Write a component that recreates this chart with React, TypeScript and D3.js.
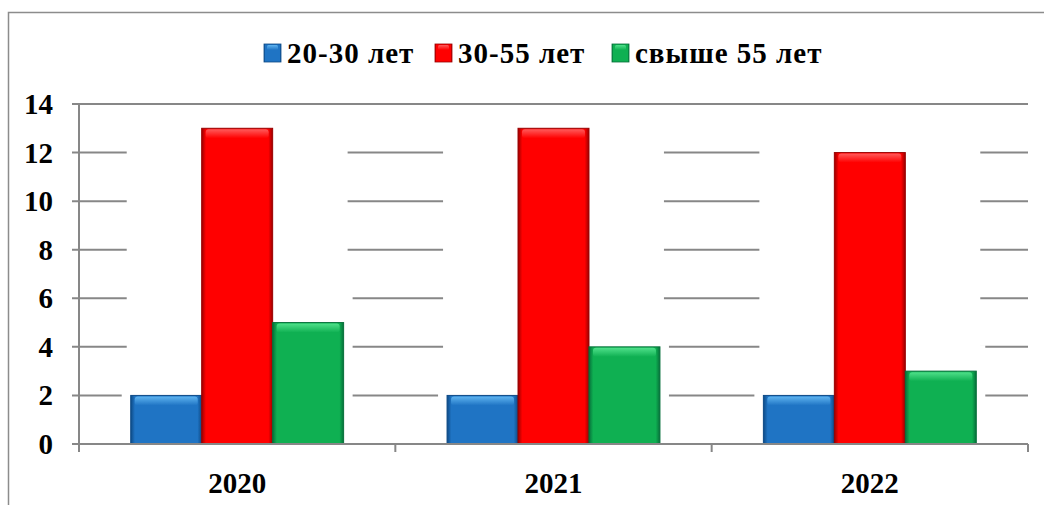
import * as d3 from "d3";

const years = ["2020", "2021", "2022"];
const seriesNames = ["20-30 лет", "30-55 лет", "свыше 55 лет"];
const youngValues = [2, 2, 2];
const middleValues = [13, 13, 12];
const olderValues = [5, 4, 3];
const yTicks = [0, 2, 4, 6, 8, 10, 12, 14];

const palette = [
  { main: "#1f74c4", light: "#5fb4f0", dark: "#0d4a86" },
  { main: "#ff0000", light: "#ff5a5a", dark: "#9a0000" },
  { main: "#0fb052", light: "#4fe08a", dark: "#06703a" },
];

const FONT = "Liberation Serif";
const AXIS = "#878787";

export default function App() {
  const width = 1044;
  const height = 505;
  const left = 79;
  const right = 1028;

  const values = [youngValues, middleValues, olderValues];
  const rows = years.map((year, i) => ({
    year,
    bars: seriesNames.map((name, s) => ({ name, s, value: values[s][i] })),
  }));

  const x0 = d3.scaleBand().domain(years).range([left, right]).paddingInner(0.327).paddingOuter(0.1635);
  const x1 = d3.scaleBand().domain(seriesNames).range([0, x0.bandwidth()]).padding(0);
  const y = d3.scaleLinear().domain([0, 14]).range([444, 104]);
  const glowTop = y(14) + 2;
  const step = x0.step();
  const legendX = [264, 435, 612];

  return (
    <svg width={width} height={height} style={{ position: "absolute", left: 0, top: 0, background: "#fff" }}>
      <defs>
        {palette.map((c, i) => (
          <g key={i}>
            <linearGradient id={`side${i}`} x1="0" x2="1" y1="0" y2="0">
              <stop offset="0%" stopColor={c.dark} />
              <stop offset="6%" stopColor={c.main} />
              <stop offset="94%" stopColor={c.main} />
              <stop offset="100%" stopColor={c.dark} />
            </linearGradient>
            <linearGradient id={`top${i}`} x1="0" x2="0" y1="0" y2="1">
              <stop offset="0%" stopColor={c.light} />
              <stop offset="100%" stopColor={c.main} />
            </linearGradient>
          </g>
        ))}
      </defs>

      {/* frame */}
      <path d={`M8.5,${height} V12.5 H${width}`} fill="none" stroke="#8c8c8c" strokeWidth={1.5} />

      {/* gridlines + y ticks */}
      {yTicks.map((t) => (
        <line key={t} x1={left - 7} x2={right} y1={y(t)} y2={y(t)} stroke={AXIS} strokeWidth={2} />
      ))}

      {/* white glow around bars hides gridlines */}
      <g fill="#fff">
        {rows.map((r) => {
          const gx = x0(r.year)!;
          const maxV = d3.max(r.bars, (b) => b.value)!;
          const top = Math.max(glowTop, y(maxV) - 22);
          return (
            <g key={r.year}>
              <rect x={gx - 4} y={top} width={x0.bandwidth() + 8} height={y(0) - top} />
              {r.bars.map((b) => {
                const bt = Math.max(glowTop, y(b.value) - 26);
                return <rect key={b.name} x={gx + x1(b.name)! - 9} y={bt} width={x1.bandwidth() + 18} height={y(0) - bt} />;
              })}
            </g>
          );
        })}
      </g>

      {/* y axis */}
      <line x1={left} x2={left} y1={y(14)} y2={y(0) + 8} stroke={AXIS} strokeWidth={2} />

      {/* bars */}
      {rows.map((r) => (
        <g key={r.year} transform={`translate(${x0(r.year)},0)`}>
          {r.bars.map((b) => (
            <g key={b.name}>
              <rect
                x={x1(b.name)}
                y={y(b.value)}
                width={x1.bandwidth()}
                height={y(0) - y(b.value)}
                fill={`url(#side${b.s})`}
                stroke={palette[b.s].dark}
                strokeWidth={1}
              />
              <rect
                x={x1(b.name)! + 4}
                y={y(b.value) + 1}
                width={x1.bandwidth() - 8}
                height={9}
                rx={3}
                fill={`url(#top${b.s})`}
              />
            </g>
          ))}
        </g>
      ))}

      {/* x axis */}
      <line x1={left} x2={right} y1={y(0)} y2={y(0)} stroke={AXIS} strokeWidth={2} />
      {d3.range(years.length + 1).map((i) => (
        <line key={i} x1={left + i * step} x2={left + i * step} y1={y(0)} y2={y(0) + 8} stroke={AXIS} strokeWidth={2} />
      ))}

      {years.map((yr) => (
        <text
          key={yr}
          x={x0(yr)! + x0.bandwidth() / 2}
          y={493}
          textAnchor="middle"
          fontFamily={FONT}
          fontWeight="bold"
          fontSize={29}
        >
          {yr}
        </text>
      ))}

      {yTicks.map((t) => (
        <text key={t} x={53} y={y(t) + 10} textAnchor="end" fontFamily={FONT} fontWeight="bold" fontSize={29}>
          {t}
        </text>
      ))}

      {/* legend */}
      {seriesNames.map((name, i) => (
        <g key={name} transform={`translate(${legendX[i]},0)`}>
          <rect x={0} y={44} width={17} height={18} fill={`url(#side${i})`} stroke={palette[i].dark} strokeWidth={0.8} />
          <rect x={3} y={45} width={11} height={5} rx={1.5} fill={`url(#top${i})`} />
          <text x={23} y={63} fontFamily={FONT} fontWeight="bold" fontSize={29} letterSpacing={1}>
            {name}
          </text>
        </g>
      ))}
    </svg>
  );
}
